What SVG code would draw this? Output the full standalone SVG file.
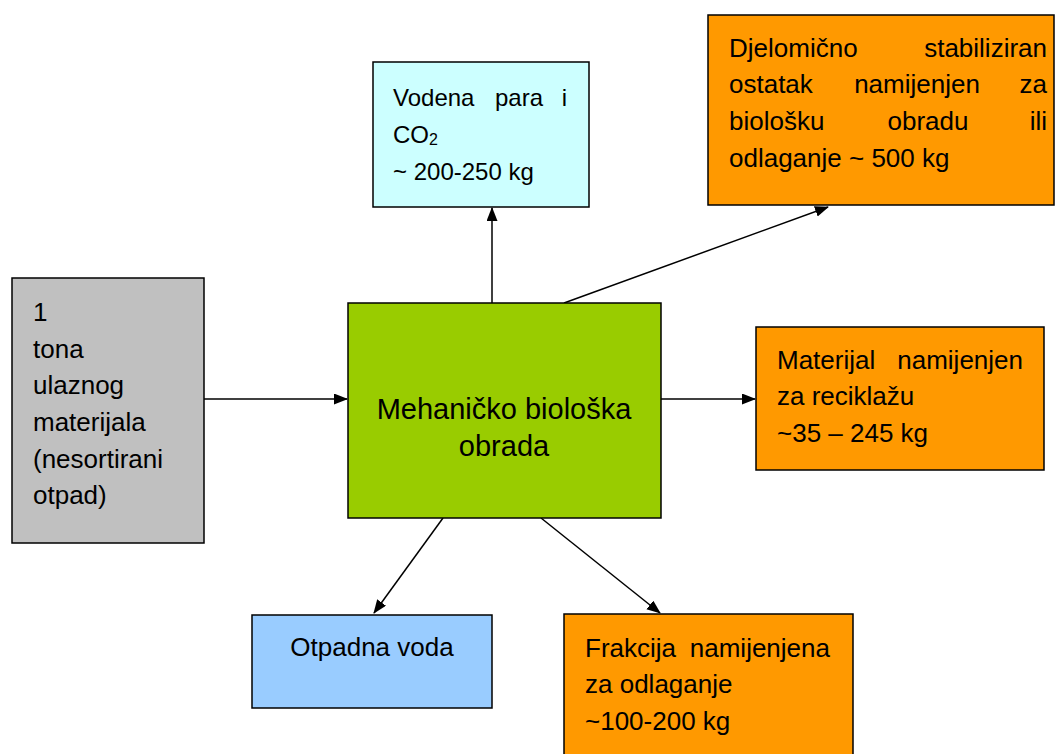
<svg xmlns="http://www.w3.org/2000/svg" width="1056" height="754" viewBox="0 0 1056 754">
  <style>
    .box { stroke: #000; stroke-width: 1.5; }
    .t { font-family: "Liberation Sans", Arial, sans-serif; font-size: 26px; fill: #000; }
    .ts { font-family: "Liberation Sans", Arial, sans-serif; font-size: 24px; fill: #000; }
    .big { font-family: "Liberation Sans", Arial, sans-serif; font-size: 29px; fill: #000; text-anchor: middle; }
    .conn { stroke: #000; stroke-width: 1.5; fill: none; marker-end: url(#arrow); }
  </style>
  <defs>
    <marker id="arrow" markerUnits="userSpaceOnUse" markerWidth="14" markerHeight="12" refX="13" refY="5.5" orient="auto">
      <path d="M0,0 L14,5.5 L0,11 z" fill="#000"/>
    </marker>
  </defs>
  <rect width="1056" height="754" fill="#fff"/>

  <g id="connectors">
    <line class="conn" x1="204" y1="399" x2="347" y2="399"/>
    <line class="conn" x1="492" y1="303" x2="492" y2="208"/>
    <line class="conn" x1="564" y1="303" x2="828" y2="207"/>
    <line class="conn" x1="661" y1="399" x2="755" y2="399"/>
    <line class="conn" x1="443" y1="518" x2="374" y2="613"/>
    <line class="conn" x1="541" y1="518" x2="660" y2="613"/>
  </g>

  <g id="input">
    <rect class="box" x="12" y="278" width="192" height="265" fill="#C0C0C0"/>
    <text class="t" x="33" y="321">1</text>
    <text class="t" x="33" y="358">tona</text>
    <text class="t" x="33" y="394">ulaznog</text>
    <text class="t" x="33" y="431">materijala</text>
    <text class="t" x="33" y="468">(nesortirani</text>
    <text class="t" x="33" y="504">otpad)</text>
  </g>

  <g id="mbo">
    <rect class="box" x="348" y="303" width="313" height="215" fill="#99CC00"/>
    <text class="big" x="504" y="419">Mehaničko biološka</text>
    <text class="big" x="504" y="456">obrada</text>
  </g>

  <g id="vodena">
    <rect class="box" x="373" y="62" width="216" height="145" fill="#CCFFFF"/>
    <text class="ts" x="393" y="106">Vodena</text>
    <text class="ts" x="519" y="106" text-anchor="middle">para</text>
    <text class="ts" x="567" y="106" text-anchor="end">i</text>
    <text class="ts" x="393" y="143">CO<tspan font-size="16" dy="2">2</tspan></text>
    <text class="ts" x="393" y="180">~ 200-250 kg</text>
  </g>

  <g id="djelomicno">
    <rect class="box" x="708" y="15" width="346" height="190" fill="#FF9900"/>
    <text class="t" x="729" y="57">Djelomično</text>
    <text class="t" x="1047" y="57" text-anchor="end">stabiliziran</text>
    <text class="t" x="729" y="93">ostatak</text>
    <text class="t" x="917" y="93" text-anchor="middle">namijenjen</text>
    <text class="t" x="1047" y="93" text-anchor="end">za</text>
    <text class="t" x="729" y="130">biološku</text>
    <text class="t" x="928" y="130" text-anchor="middle">obradu</text>
    <text class="t" x="1047" y="130" text-anchor="end">ili</text>
    <text class="t" x="729" y="167">odlaganje ~ 500 kg</text>
  </g>

  <g id="materijal">
    <rect class="box" x="756" y="327" width="288" height="143" fill="#FF9900"/>
    <text class="t" x="777" y="369">Materijal</text>
    <text class="t" x="1023" y="369" text-anchor="end">namijenjen</text>
    <text class="t" x="777" y="405">za reciklažu</text>
    <text class="t" x="777" y="442">~35 – 245 kg</text>
  </g>

  <g id="otpadna">
    <rect class="box" x="252" y="615" width="240" height="93" fill="#99CCFF"/>
    <text class="t" x="372" y="656" text-anchor="middle">Otpadna voda</text>
  </g>

  <g id="frakcija">
    <rect class="box" x="564" y="614" width="289" height="150" fill="#FF9900"/>
    <text class="t" x="585" y="657">Frakcija</text>
    <text class="t" x="830" y="657" text-anchor="end">namijenjena</text>
    <text class="t" x="585" y="693">za odlaganje</text>
    <text class="t" x="585" y="730">~100-200 kg</text>
  </g>
</svg>
